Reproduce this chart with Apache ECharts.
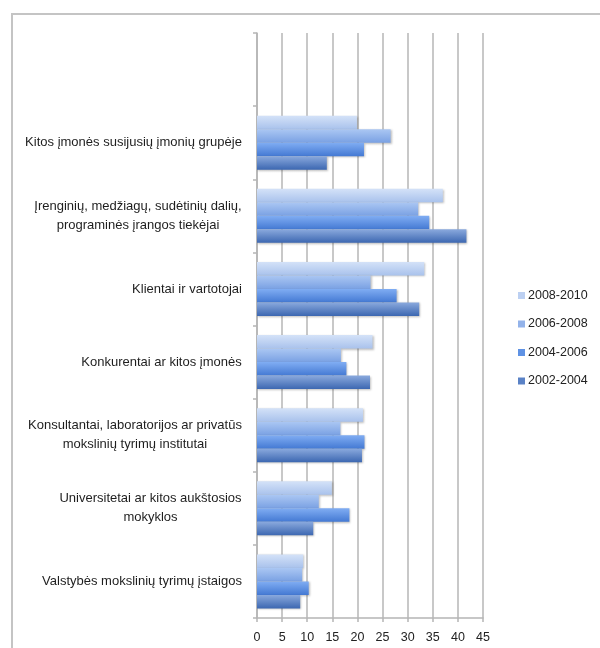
<!DOCTYPE html>
<html>
<head>
<meta charset="utf-8">
<style>
  html, body { margin: 0; padding: 0; background: #fff; }
  #chart { width: 600px; height: 648px; }
</style>
<script src="https://cdn.jsdelivr.net/npm/echarts@6/dist/echarts.min.js"></script>
</head>
<body>
<div id="chart"></div>
<script>
// Categories, listed top to bottom
const categories = [
  'Kitos įmonės susijusių įmonių grupėje',
  'Įrenginių, medžiagų, sudėtinių dalių,\nprograminės įrangos tiekėjai',
  'Klientai ir vartotojai',
  'Konkurentai ar kitos įmonės',
  'Konsultantai, laboratorijos ar privatūs\nmokslinių tyrimų institutai',
  'Universitetai ar kitos aukštosios\nmokyklos',
  'Valstybės mokslinių tyrimų įstaigos'
];

const periods = ['2008-2010', '2006-2008', '2004-2006', '2002-2004'];

const values2008_2010 = [19.9, 37.0, 33.3, 23.0, 21.1, 14.9, 9.2];
const values2006_2008 = [26.6, 32.1, 22.6, 16.7, 16.6, 12.3, 9.0];
const values2004_2006 = [21.3, 34.3, 27.8, 17.8, 21.4, 18.4, 10.3];
const values2002_2004 = [13.9, 41.7, 32.3, 22.5, 20.9, 11.2, 8.6];

const xTicks = [0, 5, 10, 15, 20, 25, 30, 35, 40, 45];

const seriesValues = [values2008_2010, values2006_2008, values2004_2006, values2002_2004];

// Bar fills: vertical gradient, light top to darker bottom; third entry is the legend swatch
const fills = [
  ['#d4e2f8', '#a9c2ec', '#bcd0f2'],
  ['#abc7f3', '#7aa1e3', '#93b3ea'],
  ['#80adf3', '#4479d3', '#5f92e4'],
  ['#8aa9dd', '#3c67b1', '#5a82c6']
];

const fontFamily = '"Liberation Sans", Arial, sans-serif';
const labelSize = 13;

// Multi-line labels are centred within their own block, block right-aligned at the axis
const measureCtx = document.createElement('canvas').getContext('2d');
measureCtx.font = labelSize + 'px ' + fontFamily;
const rich = {};
categories.forEach(function (name, i) {
  const w = Math.max.apply(null, name.split('\n').map(function (s) {
    return Math.ceil(measureCtx.measureText(s).width);
  }));
  rich['c' + i] = { width: w, align: 'center', fontSize: labelSize, lineHeight: 19,
    color: '#1e1e1e', fontFamily: fontFamily };
});

// Axis gets an empty top slot above the first category
const axisCats = [''].concat(categories);

const chart = echarts.init(document.getElementById('chart'), null, { renderer: 'canvas' });

const series = periods.map(function (p, si) {
  const f = fills[si];
  return {
    name: p,
    type: 'bar',
    data: [null].concat(seriesValues[si]),
    barGap: '0%',
    barCategoryGap: '26%',
    itemStyle: {
      color: new echarts.graphic.LinearGradient(0, 0, 0, 1, [
        { offset: 0, color: f[0] },
        { offset: 1, color: f[1] }
      ]),
      shadowColor: 'rgba(0,0,0,0.25)',
      shadowBlur: 2,
      shadowOffsetX: 1,
      shadowOffsetY: 1
    },
    emphasis: { disabled: true },
    silent: true
  };
});

chart.setOption({
  animation: false,
  backgroundColor: '#ffffff',
  graphic: [{
    type: 'rect',
    shape: { x: 12, y: 14, width: 640, height: 700 },
    style: { fill: 'none', stroke: '#c4c4c4', lineWidth: 2 },
    z: -1
  }],
  legend: {
    orient: 'vertical',
    left: 513,
    top: 284,
    itemWidth: 7,
    itemHeight: 7,
    itemGap: 15.5,
    icon: 'rect',
    data: periods.map(function (p, i) {
      return { name: p, itemStyle: { color: fills[i][2] } };
    }),
    textStyle: { fontSize: 12.5, color: '#222', fontFamily: fontFamily, padding: [0, 0, 0, -2] }
  },
  grid: { left: 257, right: 117, top: 33, bottom: 30, containLabel: false },
  xAxis: {
    type: 'value',
    min: 0,
    max: 45,
    interval: 5,
    axisLine: { show: true, lineStyle: { color: '#b5b5b5', width: 1.5 } },
    axisTick: { show: true, length: 4, lineStyle: { color: '#b5b5b5', width: 1.5 } },
    splitLine: { show: true, lineStyle: { color: '#c2c2c2', width: 1.8 } },
    axisLabel: {
      margin: 13,
      fontSize: 12.5,
      color: '#222',
      fontFamily: fontFamily,
      formatter: function (v) { return xTicks.indexOf(v) >= 0 ? String(v) : ''; }
    }
  },
  yAxis: {
    type: 'category',
    inverse: true,
    data: axisCats,
    axisLine: { show: true, lineStyle: { color: '#b5b5b5', width: 1.5 } },
    axisTick: { show: true, length: 4, lineStyle: { color: '#b5b5b5', width: 1.5 } },
    axisLabel: {
      margin: 15,
      align: 'right',
      formatter: function (val, idx) {
        if (!val) return '';
        const i = idx - 1;
        return val.split('\n').map(function (s) { return '{c' + i + '|' + s + '}'; }).join('\n');
      },
      rich: rich
    }
  },
  series: series
});
</script>
</body>
</html>
